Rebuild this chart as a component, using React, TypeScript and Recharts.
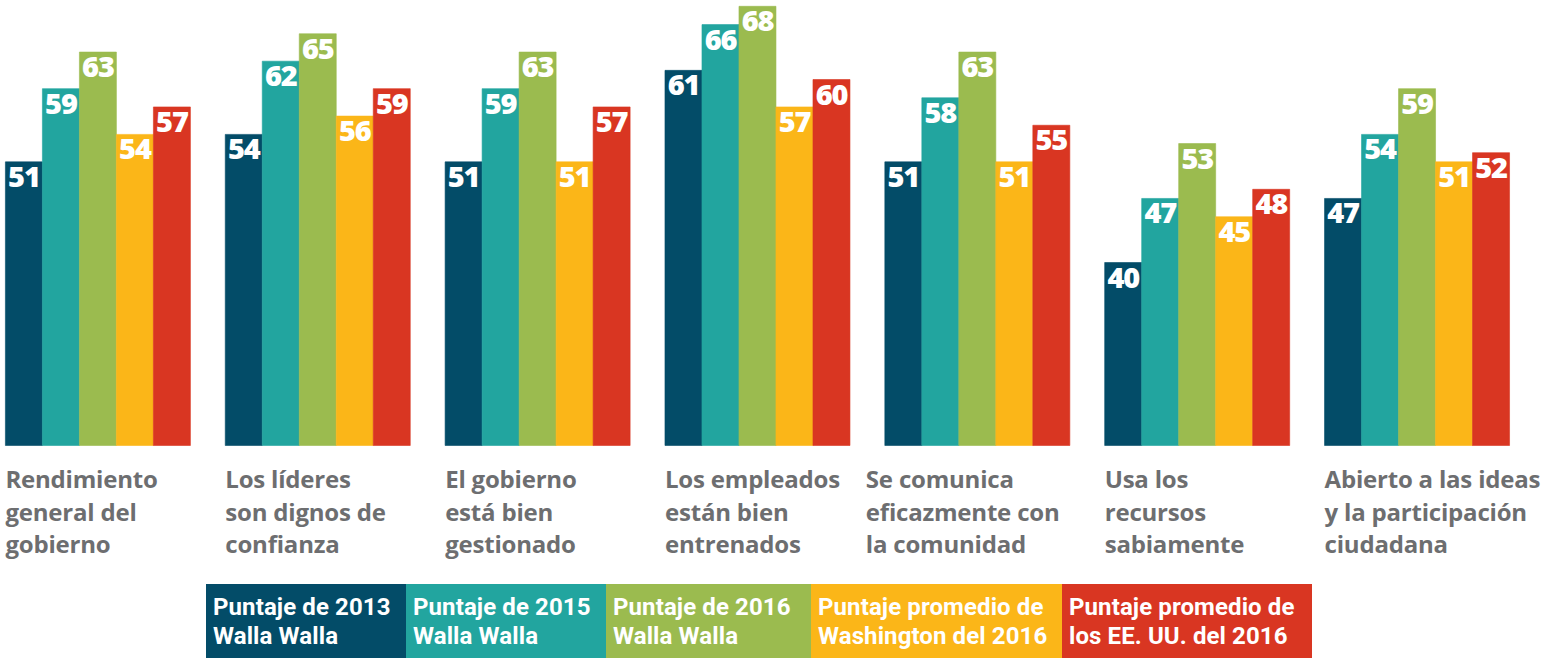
import React from "react";
import { BarChart, Bar, XAxis, YAxis, LabelList, Legend } from "recharts";

const categoryLines: string[][] = [
  ["Rendimiento", "general del", "gobierno"],
  ["Los líderes", "son dignos de", "confianza"],
  ["El gobierno", "está bien", "gestionado"],
  ["Los empleados", "están bien", "entrenados"],
  ["Se comunica", "eficazmente con", "la comunidad"],
  ["Usa los", "recursos", "sabiamente"],
  ["Abierto a las ideas", "y la participación", "ciudadana"],
];
const categories = categoryLines.map((l) => l.join(" "));

const score2013 = [51, 54, 51, 61, 51, 40, 47];
const score2015 = [59, 62, 59, 66, 58, 47, 54];
const score2016 = [63, 65, 63, 68, 63, 53, 59];
const washington2016 = [54, 56, 51, 57, 51, 45, 51];
const us2016 = [57, 59, 57, 60, 55, 48, 52];

const seriesNames = [
  "Puntaje de 2013\nWalla Walla",
  "Puntaje de 2015\nWalla Walla",
  "Puntaje de 2016\nWalla Walla",
  "Puntaje promedio de\nWashington del 2016",
  "Puntaje promedio de\nlos EE. UU. del 2016",
];

const data = categories.map((c, i) => ({
  name: c,
  s2013: score2013[i],
  s2015: score2015[i],
  s2016: score2016[i],
  wa: washington2016[i],
  us: us2016[i],
}));

const keys = ["s2013", "s2015", "s2016", "wa", "us"];
const colors = ["#034C68", "#22A59F", "#9BBB4F", "#FBB618", "#D93622"];
const legendWidths = [200, 200, 205, 251, 250];
const tickShift = [0, 0, 0, 0, -19, 0, 0];

const ValueLabel = (props: any) => {
  const { x, y, width, value } = props;
  return (
    <text
      x={Number(x) + Number(width) / 2}
      y={Number(y) + 25}
      textAnchor="middle"
      fill="#ffffff"
      fontFamily="'Open Sans', sans-serif"
      fontWeight={800}
      fontSize={29}
      letterSpacing={-1.2}
    >
      {value}
    </text>
  );
};

const CategoryTick = (props: any) => {
  const { x, y, payload, index } = props;
  const idx = payload.index ?? index;
  const lines = categoryLines[idx] || [String(payload.value)];
  const left = x - 92.5 + (tickShift[idx] || 0);
  return (
    <g>
      {lines.map((ln, i) => (
        <text
          key={i}
          x={left}
          y={y + 36.5 + i * 32.5}
          textAnchor="start"
          fill="#6d6e70"
          fontFamily="'Open Sans', sans-serif"
          fontWeight={700}
          fontSize={24}
          letterSpacing={-0.2}
        >
          {ln}
        </text>
      ))}
    </g>
  );
};

const LegendContent = (props: any) => {
  const payload = props.payload || [];
  return (
    <div style={{ height: 0, position: "relative" }}>
      <div style={{ position: "absolute", left: 0, top: 0, display: "flex" }}>
        {payload.map((p: any, i: number) => (
          <div
            key={i}
            style={{
              width: legendWidths[i],
              height: 74,
              boxSizing: "border-box",
              background: p.color,
              color: "#ffffff",
              fontFamily: "Roboto, sans-serif",
              fontWeight: 700,
              fontSize: 24,
              lineHeight: "29px",
              padding: "9px 0 0 7px",
              whiteSpace: "pre",
              letterSpacing: 0.1,
            }}
          >
            {String(p.value)}
          </div>
        ))}
      </div>
    </div>
  );
};

export default function App() {
  return (
    <div
      style={{
        position: "fixed",
        left: -12,
        top: -2,
        width: 1562,
        height: 660,
        overflow: "hidden",
        background: "#ffffff",
      }}
    >
      <BarChart
        width={1562}
        height={660}
        data={data}
        margin={{ top: 8.3, right: 23, bottom: 0, left: 0 }}
        barGap={0}
        barCategoryGap={17.4}
      >
        <XAxis
          dataKey="name"
          axisLine={false}
          tickLine={false}
          tickMargin={0}
          height={212.5}
          interval={0}
          tick={<CategoryTick />}
        />
        <YAxis type="number" domain={[20, 68]} hide />
        <Legend
          content={<LegendContent />}
          wrapperStyle={{ left: 218, top: 586, width: 1200, height: 0, bottom: "auto" }}
        />
        {keys.map((k, i) => (
          <Bar
            key={k}
            dataKey={k}
            name={seriesNames[i]}
            fill={colors[i]}
            stroke={colors[i]}
            strokeWidth={0.6}
            isAnimationActive={false}
          >
            <LabelList dataKey={k} content={<ValueLabel />} />
          </Bar>
        ))}
      </BarChart>
    </div>
  );
}
